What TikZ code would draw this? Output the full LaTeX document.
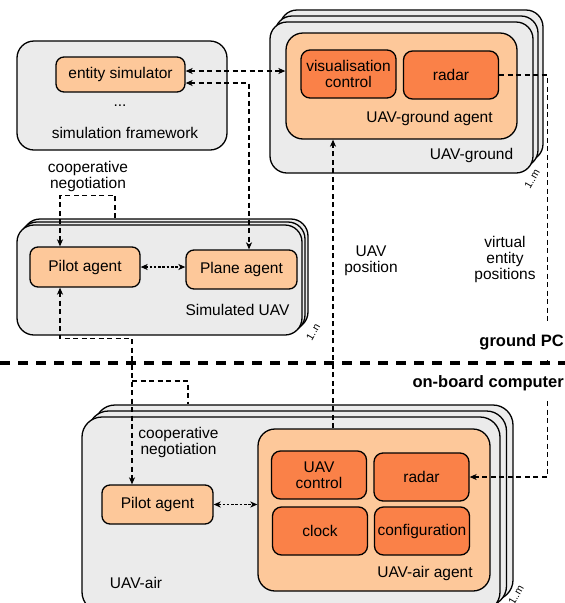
\documentclass[tikz,border=0pt]{standalone}
\usepackage{fontspec}
\setmainfont{Liberation Sans}
\usetikzlibrary{arrows.meta,calc}

\definecolor{panelgray}{RGB}{235,235,235}
\definecolor{agentorange}{RGB}{253,200,154}
\definecolor{partorange}{RGB}{250,129,72}

\tikzset{
  every node/.style={font=\fontsize{15.5}{16}\selectfont},
  container/.style={draw, line width=1.3pt, fill=panelgray, rounded corners=17pt,
    inner sep=0pt},
  agentbox/.style={draw, line width=1.3pt, fill=agentorange, rounded corners=17pt,
    inner sep=0pt},
  smallagent/.style={draw, line width=1.3pt, fill=agentorange, rounded corners=8pt,
    inner sep=0pt, align=center},
  partbox/.style={draw, line width=1.3pt, fill=partorange, rounded corners=9pt,
    inner sep=0pt, align=center, minimum width=95pt, minimum height=48pt},
  tip/.style={-{Stealth[length=7pt,width=6pt,inset=2pt]}},
  bothtips/.style={{Stealth[length=7pt,width=6pt,inset=2pt]}-{Stealth[length=7pt,width=6pt,inset=2pt]}},
  dlink/.style={line width=1.2pt, dash pattern=on 5pt off 3.5pt},
  dotlink/.style={line width=1.2pt, dash pattern=on 2.5pt off 1.8pt},
  caption/.style={align=center, inner sep=0pt},
  multiplicity/.style={font=\fontsize{10.5}{10.5}\selectfont, rotate=60, inner sep=0pt},
  zonelabel/.style={font=\fontsize{16.5}{17}\selectfont\bfseries, anchor=east,
    fill=white, inner xsep=2pt},
}

\begin{document}
\begin{tikzpicture}[x=1pt,y=-1pt]
\useasboundingbox (0,0) rectangle (565,603);

% ---------- ground PC ----------
% simulation framework
\node[container, minimum width=210pt, minimum height=109pt] (simfw) at (122,95.5) {};
\node[smallagent, minimum width=129pt, minimum height=35pt] (entsim) at (120.5,74.5) {entity simulator};
\node[caption] (dots) at (120,106) {...};
\node[caption] (simfwlbl) at (125,133) {simulation framework};

% UAV-ground stack (1..m)
\node[container, minimum width=263pt, minimum height=151pt] (groundb2) at (411.5,85.5) {};
\node[container, minimum width=263pt, minimum height=151pt] (groundb1) at (406.5,91.5) {};
\node[container, minimum width=263pt, minimum height=151pt] (ground) at (401.5,97.5) {};
\node[agentbox, minimum width=231pt, minimum height=106pt] (gagent) at (401.5,86) {};
\node[partbox] (visctl) at (348.5,74) {visualisation\\control};
\node[partbox] (gradar) at (451,75) {radar};
\node[caption] (gagentlbl) at (429.5,118) {UAV-ground agent};
\node[caption] (groundlbl) at (471.5,155) {UAV-ground};
\node[multiplicity] (mground) at (532,179) {1..m};

% Simulated UAV stack (1..n)
\node[container, minimum width=285pt, minimum height=110pt] (simuavb2) at (165.5,274) {};
\node[container, minimum width=285pt, minimum height=110pt] (simuavb1) at (162.5,277) {};
\node[container, minimum width=285pt, minimum height=110pt] (simuav) at (159.5,280) {};
\node[smallagent, minimum width=110pt, minimum height=40pt] (spilot) at (85,267) {Pilot agent};
\node[smallagent, minimum width=111pt, minimum height=39pt] (splane) at (241.5,269.5) {Plane agent};
\node[caption] (simuavlbl) at (237.5,310) {Simulated UAV};
\node[multiplicity] (msim) at (313,332) {1..n};

% ---------- on-board computer ----------
% UAV-air stack (1..m)
\node[container, rounded corners=20pt, minimum width=418pt, minimum height=195pt] (airb2) at (304,502.5) {};
\node[container, rounded corners=20pt, minimum width=418pt, minimum height=195pt] (airb1) at (297.5,508.5) {};
\node[container, rounded corners=20pt, minimum width=418pt, minimum height=195pt] (air) at (291,514.5) {};
\node[agentbox, minimum width=232pt, minimum height=162pt] (aagent) at (374,510) {};
\node[partbox] (uavctl) at (319,475) {UAV\\control};
\node[partbox] (aradar) at (421.5,477) {radar};
\node[partbox] (clock) at (320,531) {clock};
\node[partbox] (config) at (422,531) {configuration};
\node[caption] (aagentlbl) at (425,573) {UAV-air agent};
\node[smallagent, minimum width=111pt, minimum height=39pt] (apilot) at (157.5,504.5) {Pilot agent};
\node[caption] (airlbl) at (136,583) {UAV-air};
\node[multiplicity] (mair) at (516,595) {1..m};

% ---------- connectors ----------
% entity simulator <-> UAV-ground agent
\draw[dlink,bothtips] ([yshift=3.5pt]entsim.east) -- ([yshift=3.5pt]entsim.east -| gagent.west);
% entity simulator <-> plane agent
\draw[dlink,bothtips] ([yshift=-8.5pt]entsim.east) -| ([xshift=7.5pt]splane.north);

% cooperative negotiation (simulation side)
\draw[dlink,tip] ([xshift=-44.5pt,yshift=6pt]simuav.north) -- ++(0,-23) -| ([xshift=-25pt]spilot.north);
\node[caption] (negtop) at (88,176) {cooperative\\negotiation};

% pilot <-> plane
\draw[dotlink,bothtips] (spilot.east) -- (spilot.east -| splane.west);

% simulated pilot <-> on-board pilot
\draw[dlink,bothtips] ([xshift=-25pt]spilot.south) -- ++(0,51) -| ([xshift=-25.5pt]apilot.north);
\coordinate (negjoin) at (132,381);
\draw[dlink] (negjoin) -| ([xshift=-103pt,yshift=12pt]air.north);
\node[caption] (negbot) at (178.5,442) {cooperative\\negotiation};

% on-board pilot <-> UAV-air agent
\draw[dotlink,bothtips] (apilot.east) -- (apilot.east -| aagent.west);

% UAV position
\draw[dlink,tip] ([xshift=-41pt]aagent.north) -- ([xshift=-41pt]aagent.north |- gagent.south);
\node[caption] (uavpos) at (371,261) {UAV\\position};

% virtual entity positions
\draw[dlink,tip] (gradar.east) -- ++(48,0) |- (aradar.east);
\node[caption] (virtpos) at (505,259) {virtual\\entity\\positions};

% zone labels and separator
\node[zonelabel, inner ysep=10pt] (groundpc) at (566,342) {ground PC};
\node[zonelabel, inner ysep=10pt] (onboard) at (566,383) {on-board computer};
\coordinate (sepL) at (0,363);
\coordinate (sepR) at (565,363);
\draw[line width=3.5pt, dash pattern=on 10pt off 8pt] (sepL) -- (sepR);
\end{tikzpicture}
\end{document}
